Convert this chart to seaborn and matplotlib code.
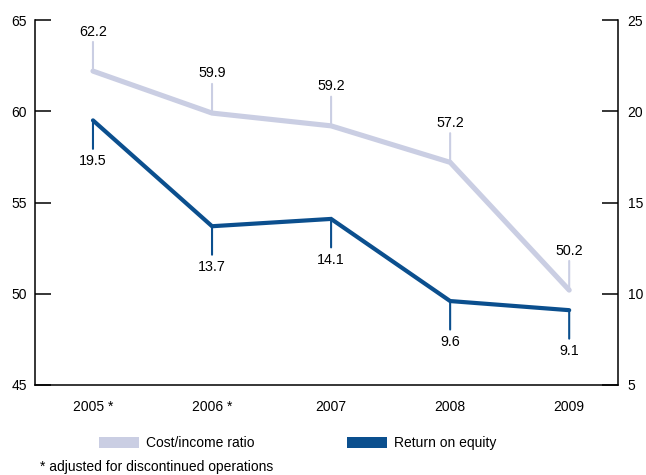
import pandas as pd
import seaborn as sns
import matplotlib.pyplot as plt
from matplotlib.patches import Patch

# Data
years = ["2005 *", "2006 *", "2007", "2008", "2009"]
cost_income = [62.2, 59.9, 59.2, 57.2, 50.2]
roe = [19.5, 13.7, 14.1, 9.6, 9.1]

cost_color = "#CACEE3"
roe_color = "#0B4F8E"

sns.set_style("white")
plt.rcParams['font.family'] = ['Liberation Sans', 'DejaVu Sans']
plt.rcParams['font.size'] = 10
plt.rcParams['text.color'] = "black"
plt.rcParams['xtick.color'] = "black"
plt.rcParams['ytick.color'] = "black"

df = pd.DataFrame({"pos": range(len(years)), "year": years,
                   "cost": cost_income, "roe": roe})

fig = plt.figure(figsize=(6.46, 4.75), dpi=100)
ax = fig.add_axes([35 / 646, 1 - 385 / 475, 583 / 646, 365 / 475])
ax2 = ax.twinx()

sns.lineplot(data=df, x="pos", y="cost", ax=ax, color=cost_color, lw=3.7,
             sort=False, solid_joinstyle="miter")
sns.lineplot(data=df, x="pos", y="roe", ax=ax2, color=roe_color, lw=3.0,
             sort=False, solid_joinstyle="miter")

ax.set_ylim(45, 65)
ax2.set_ylim(5, 25)
ax.set_yticks([45, 50, 55, 60, 65])
ax2.set_yticks([5, 10, 15, 20, 25])
ax.set_xlim(-0.487, 4.41)
ax.set_xticks(df["pos"])
ax.set_xticklabels(years)
ax.set_xlabel("")
ax.set_ylabel("")
ax2.set_ylabel("")

ax.tick_params(axis="y", direction="in", length=11.5, width=1.1, pad=6,
               left=True, labelsize=10)
ax2.tick_params(axis="y", direction="in", length=11.5, width=1.1, pad=7,
                right=True, labelsize=10)
ax.tick_params(axis="x", length=0, pad=11, labelsize=10)

for s in ["top", "right"]:
    ax.spines[s].set_visible(False)
for s in ["top", "left", "bottom"]:
    ax2.spines[s].set_visible(False)
for a in (ax, ax2):
    for s in a.spines.values():
        s.set_color("black")
        s.set_linewidth(1.1)

# value labels with stems
for i, v in enumerate(cost_income):
    ax.annotate("", xy=(i, v), xytext=(0, 21), textcoords="offset points",
                arrowprops=dict(arrowstyle="-", color=cost_color, lw=1.5,
                                shrinkA=0, shrinkB=0))
    ax.annotate(f"{v:.1f}", xy=(i, v), xytext=(0, 28.5),
                textcoords="offset points", ha="center", va="center",
                fontsize=10.3)
for i, v in enumerate(roe):
    ax2.annotate("", xy=(i, v), xytext=(0, -20.5), textcoords="offset points",
                 arrowprops=dict(arrowstyle="-", color=roe_color, lw=1.5,
                                 shrinkA=0, shrinkB=0))
    ax2.annotate(f"{v:.1f}", xy=(i, v), xytext=(0, -29.5),
                 textcoords="offset points", ha="center", va="center",
                 fontsize=10.3)

# legend
handles = [Patch(facecolor=cost_color, edgecolor="none", label="Cost/income ratio"),
           Patch(facecolor=roe_color, edgecolor="none", label="Return on equity")]
fig.legend(handles=handles, loc="center left",
           bbox_to_anchor=(99 / 646, 1 - 443 / 475), ncol=2, frameon=False,
           handlelength=2.9, handleheight=0.85, handletextpad=0.45,
           columnspacing=6.7, borderpad=0, borderaxespad=0, fontsize=10)

fig.text(40 / 646, 1 - 467 / 475, "* adjusted for discontinued operations",
         ha="left", va="center", fontsize=10)

fig.savefig("out.png", dpi=100)
